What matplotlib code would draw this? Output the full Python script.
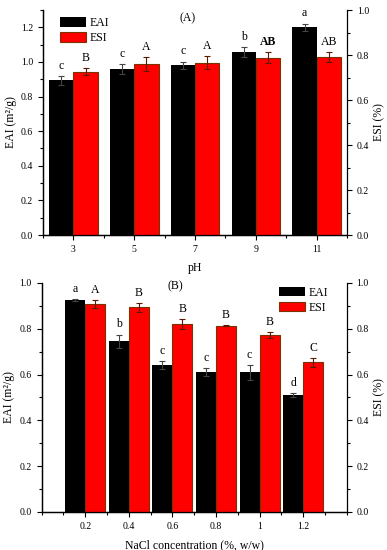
import numpy as np
import matplotlib
matplotlib.use("Agg")
import matplotlib.pyplot as plt
from matplotlib.ticker import MultipleLocator, FixedLocator

plt.rcParams["font.family"] = ["Liberation Serif", "DejaVu Serif"]

# ---- Panel A: effect of pH ----
ph = [3, 5, 7, 9, 11]
eai_ph = [0.893, 0.961, 0.980, 1.056, 1.200]
eai_ph_err = [0.025, 0.028, 0.022, 0.028, 0.022]
esi_ph = [0.726, 0.760, 0.766, 0.788, 0.792]
esi_ph_err = [0.016, 0.030, 0.030, 0.024, 0.022]
eai_ph_lab = ["c", "c", "c", "b", "a"]
esi_ph_lab = ["B", "A", "A", "AB", "AB"]

# ---- Panel B: effect of NaCl ----
nacl = [0.2, 0.4, 0.6, 0.8, 1.0, 1.2]
nacl_ticklabels = ["0.2", "0.4", "0.6", "0.8", "1", "1.2"]
eai_nacl = [0.924, 0.745, 0.643, 0.611, 0.610, 0.510]
eai_nacl_err = [0.004, 0.030, 0.017, 0.017, 0.033, 0.008]
esi_nacl = [0.907, 0.893, 0.820, 0.813, 0.771, 0.653]
esi_nacl_err = [0.018, 0.018, 0.022, 0.003, 0.013, 0.018]
eai_nacl_lab = ["a", "b", "c", "c", "c", "d"]
esi_nacl_lab = ["A", "B", "B", "B", "B", "C"]

RED = "#ff0000"
RED_EDGE = "#7a3300"
TICK_FS = 7
LAB_FS = 8.5


def style_axes(ax, side):
    ax.spines["top"].set_visible(False)
    if side == "left":
        ax.spines["right"].set_visible(False)
    ax.tick_params(which="both", direction="out", labelsize=TICK_FS, width=0.8)
    ax.tick_params(which="major", length=3.5)
    ax.tick_params(which="minor", length=2)
    for s in ax.spines.values():
        s.set_linewidth(0.9)


def draw_panel(ax, x, eai, eai_err, esi, esi_err, eai_lab, esi_lab, width,
               left_max, bold=None):
    x = np.asarray(x, dtype=float)
    ax2 = ax.twinx()
    ax.bar(x - width / 2, eai, width, color="black", label="EAI", zorder=2)
    ax.errorbar(x - width / 2, eai, yerr=eai_err, fmt="none", ecolor="#444444",
                elinewidth=0.8, capsize=2, capthick=0.8, zorder=3)
    ax2.bar(x + width / 2, esi, width, color=RED, edgecolor=RED_EDGE,
            linewidth=0.8, label="ESI", zorder=2)
    ax2.errorbar(x + width / 2, esi, yerr=esi_err, fmt="none", ecolor="#5a1a00",
                 elinewidth=0.8, capsize=2, capthick=0.8, zorder=3)

    for xi, v, e, t in zip(x, eai, eai_err, eai_lab):
        ax.annotate(t, (xi - width / 2, v + e), xytext=(0, 3),
                    textcoords="offset points", ha="center", va="bottom",
                    fontsize=LAB_FS)
    for i, (xi, v, e, t) in enumerate(zip(x, esi, esi_err, esi_lab)):
        ax2.annotate(t, (xi + width / 2, v + e), xytext=(0, 3),
                     textcoords="offset points", ha="center", va="bottom",
                     fontsize=LAB_FS,
                     fontweight="bold" if bold is not None and i == bold else "normal")

    ax.set_ylim(0, left_max)
    ax2.set_ylim(0, 1.0)
    ax.yaxis.set_major_locator(MultipleLocator(0.2))
    ax.yaxis.set_minor_locator(MultipleLocator(0.1))
    ax2.yaxis.set_major_locator(MultipleLocator(0.2))
    ax2.yaxis.set_minor_locator(MultipleLocator(0.1))
    ax.yaxis.set_major_formatter(lambda v, p: f"{v:.1f}")
    ax2.yaxis.set_major_formatter(lambda v, p: f"{v:.1f}")
    style_axes(ax, "left")
    style_axes(ax2, "right")
    ax.set_ylabel("EAI (m²/g)", fontsize=LAB_FS, labelpad=3)
    ax2.set_ylabel("ESI (%)", fontsize=LAB_FS, labelpad=3)
    return ax2


fig = plt.figure(figsize=(3.87, 5.5), dpi=100)

# Panel A
axA = fig.add_axes([0.111, 0.5727, 0.786, 0.409])
axA2 = draw_panel(axA, ph, eai_ph, eai_ph_err, esi_ph, esi_ph_err,
                  eai_ph_lab, esi_ph_lab, 0.8, 1.3, bold=3)
axA.set_xlim(2, 12)
axA.xaxis.set_major_locator(FixedLocator(ph))
axA.xaxis.set_minor_locator(FixedLocator([2, 4, 6, 8, 10, 12]))
axA.set_xticklabels([str(p) for p in ph])
axA.set_xlabel("pH", fontsize=LAB_FS, labelpad=6)
hA = [axA.patches[0], axA2.patches[0]]
axA.legend(hA, ["EAI", "ESI"], loc="upper left", bbox_to_anchor=(0.03, 1.005),
           frameon=False, fontsize=8.5, handlelength=2.2, handleheight=0.9,
           handletextpad=0.3, labelspacing=0.25, borderpad=0.2)
axA.text(0.477, 0.965, "(A)", transform=axA.transAxes, ha="center",
         va="center", fontsize=8.5)

# Panel B
axB = fig.add_axes([0.1075, 0.0691, 0.7885, 0.4164])
axB2 = draw_panel(axB, nacl, eai_nacl, eai_nacl_err, esi_nacl, esi_nacl_err,
                  eai_nacl_lab, esi_nacl_lab, 0.092, 1.0)
axB.set_xlim(0, 1.4)
axB.xaxis.set_major_locator(FixedLocator(nacl))
axB.xaxis.set_minor_locator(FixedLocator(np.arange(0, 1.45, 0.1)))
axB.set_xticklabels(nacl_ticklabels)
axB.set_xlabel("NaCl concentration (%, w/w)", fontsize=LAB_FS, labelpad=6)
hB = [axB.patches[0], axB2.patches[0]]
axB.legend(hB, ["EAI", "ESI"], loc="upper right", bbox_to_anchor=(0.965, 1.02),
           frameon=False, fontsize=8.5, handlelength=2.2, handleheight=0.9,
           handletextpad=0.3, labelspacing=0.25, borderpad=0.2)
axB.text(0.438, 0.985, "(B)", transform=axB.transAxes, ha="center",
         va="center", fontsize=8.5)

fig.savefig("out.png", dpi=100)
